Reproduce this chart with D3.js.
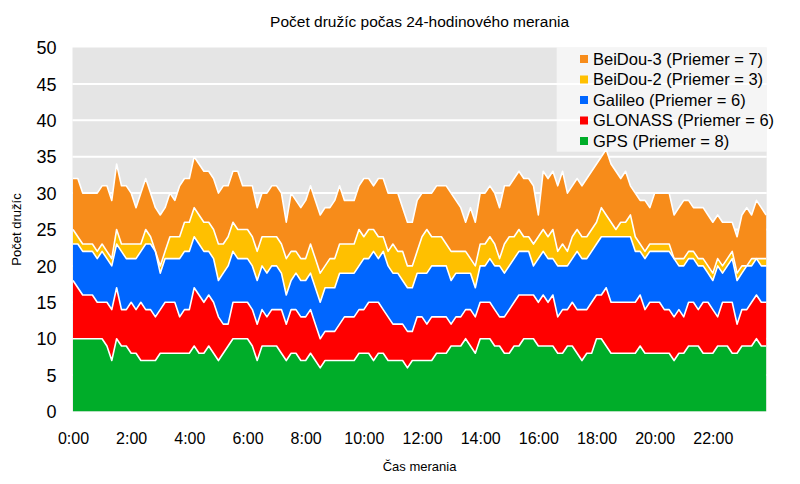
<!DOCTYPE html>
<html><head><meta charset="utf-8">
<script src="https://cdn.jsdelivr.net/npm/d3@7"></script>
<style>body{margin:0;background:#fff}text{font-family:"Liberation Sans",Arial,sans-serif;fill:#000}</style>
</head><body>
<svg id="c" width="800" height="484"></svg>
<script>
// time of each sample (minutes since 0:00), one every 10 minutes
const minutes = d3.range(0, 1440, 10);
const tickMinutes = [0,120,240,360,480,600,720,840,960,1080,1200,1320];
const tickLabels = ["0:00","2:00","4:00","6:00","8:00","10:00","12:00","14:00","16:00","18:00","20:00","22:00"];
const yTicks = [0,5,10,15,20,25,30,35,40,45,50];

const gps = [10,10,10,10,10,10,10,9,7,10,9,9,8,8,7,7,7,7,8,8,8,8,8,8,8,
9,8,8,9,8,7,8,9,10,10,10,10,9,7,9,9,9,9,8,7,8,8,7,
7,8,7,6,7,7,7,7,7,7,7,8,8,8,7,8,8,7,7,7,7,6,7,7,
7,7,7,8,8,8,9,9,9,10,9,8,10,10,10,9,9,8,8,9,9,10,10,10,
9,9,9,9,8,8,9,9,8,7,8,8,10,10,9,8,8,8,8,8,8,9,8,8,
8,8,8,8,7,8,8,9,9,9,8,8,8,9,9,9,8,8,9,9,9,10,9,9];
const glonass = [8,7,6,6,6,5,5,6,7,7,5,5,7,6,8,7,7,6,6,7,7,7,5,6,6,
8,8,7,7,7,6,4,3,5,5,5,5,5,5,5,4,5,5,6,5,6,6,6,
6,6,5,4,4,4,4,5,6,6,6,6,6,7,8,7,6,6,5,5,5,5,4,6,
6,5,6,5,5,5,3,4,4,4,5,5,5,5,5,5,4,5,6,6,7,6,6,6,
6,7,6,7,5,6,5,6,6,7,6,7,6,6,8,7,7,7,7,7,7,7,6,7,
7,7,6,6,6,6,5,6,6,5,7,7,6,4,6,6,7,4,5,5,6,6,6,6];
const galileo = [5,6,6,6,6,6,7,6,6,6,8,7,6,7,7,9,9,9,5,6,6,6,8,8,8,
7,7,7,6,6,5,7,8,7,6,6,6,6,6,6,6,6,6,5,4,4,5,5,
5,5,5,5,6,6,6,7,6,6,6,6,7,6,7,6,8,7,7,7,6,6,6,6,
6,7,7,7,7,7,6,6,6,5,5,4,5,5,6,6,7,6,6,6,6,6,6,4,
6,6,6,5,7,6,6,6,8,7,7,7,7,8,7,9,9,9,9,9,7,6,7,7,
7,7,8,8,8,6,7,6,6,6,5,4,4,7,4,5,6,6,5,6,5,5,5,5];
const beidou2 = [2,1,1,1,1,1,1,1,1,2,1,2,2,2,1,2,1,0,1,1,3,3,3,4,4,
4,4,4,4,4,5,4,4,4,4,4,4,4,4,4,5,4,4,4,5,4,3,3,
3,4,4,4,3,4,4,4,4,4,4,5,3,4,3,3,2,2,4,3,4,3,3,3,
5,6,4,4,4,3,4,3,3,3,2,3,3,3,3,3,1,4,4,3,3,2,2,3,
3,3,3,4,2,3,2,3,3,3,3,3,3,4,3,2,1,2,2,3,2,1,1,1,
1,1,1,1,0,1,1,1,1,1,1,1,1,1,1,1,1,1,1,0,1,0,1,1];
const beidou3 = [7,8,7,7,7,8,8,9,8,9,8,8,7,5,7,7,6,6,7,6,6,5,7,6,6,
7,7,7,7,7,7,8,7,7,8,6,6,7,6,6,6,7,7,7,5,8,7,7,
8,8,8,8,8,7,8,8,6,6,6,6,8,7,6,8,8,8,7,8,6,6,6,7,
6,5,6,7,7,8,8,7,6,4,7,6,7,7,7,7,7,8,7,8,8,8,8,8,
3,8,8,8,9,10,8,7,7,7,8,8,8,7,9,8,8,6,7,4,6,6,7,5,
7,7,7,7,6,7,8,7,6,7,7,7,7,6,6,5,4,5,7,8,6,8,7,6];

const seriesKeys = ["GPS","GLONASS","Galileo","BeiDou-2","BeiDou-3"];
const seriesData = [gps, glonass, galileo, beidou2, beidou3];
const seriesColors = ["#00ad29","#ff0000","#0066ff","#ffc000","#f78c1a"];
const legendLabels = ["GPS (Priemer = 8)","GLONASS (Priemer = 6)","Galileo (Priemer = 6)","BeiDou-2 (Priemer = 3)","BeiDou-3 (Priemer = 7)"];

const rows = minutes.map((m, i) => {
  const r = {t: m};
  seriesKeys.forEach((k, j) => r[k] = seriesData[j][i]);
  return r;
});

const svg = d3.select("#c");
const L = 72.5, R = 766.7, T = 47.5, B = 411.5;
const x = d3.scaleLinear().domain([0, 1440]).range([73, 771]);
const y = d3.scaleLinear().domain([0, 50]).range([B, T]);

svg.append("defs").append("clipPath").attr("id","clip")
  .append("rect").attr("x",L).attr("y",T).attr("width",R-L).attr("height",B-T);

svg.append("rect").attr("x",L).attr("y",T).attr("width",R-L).attr("height",B-T).attr("fill","#e5e5e5");

svg.append("g").selectAll("line").data(yTicks.filter(v => v > 0 && v < 50)).join("line")
  .attr("x1",L).attr("x2",R).attr("y1",d=>y(d)).attr("y2",d=>y(d))
  .attr("stroke","#fff").attr("stroke-width",2);

const stack = d3.stack().keys(seriesKeys)(rows);
const area = d3.area().x(d=>x(d.data.t)).y0(d=>y(d[0])).y1(d=>y(d[1]));
const topLine = d3.line().x(d=>x(d.data.t)).y(d=>y(d[1]));

const g = svg.append("g").attr("clip-path","url(#clip)");
g.selectAll("path.a").data(stack).join("path").attr("class","a")
  .attr("d", area).attr("fill", (d,i)=>seriesColors[i]);
g.selectAll("path.l").data(stack).join("path").attr("class","l")
  .attr("d", topLine).attr("fill","none").attr("stroke","#fff").attr("stroke-width",1.6).attr("stroke-linejoin","round");

// y axis
const ya = svg.append("g").attr("transform",`translate(${L},0)`)
  .call(d3.axisLeft(y).tickValues(yTicks).tickSize(0).tickPadding(16));
ya.select(".domain").remove();
ya.selectAll("text").style("font-size","18px").attr("dy","0.34em");

// x axis
const xa = svg.append("g").attr("transform",`translate(0,${B})`)
  .call(d3.axisBottom(x).tickValues(tickMinutes).tickFormat((d,i)=>tickLabels[i]).tickSize(0).tickPadding(21));
xa.select(".domain").remove();
xa.selectAll("text").style("font-size","16px");

// titles
svg.append("text").attr("x",(L+R)/2).attr("y",27).attr("text-anchor","middle")
  .style("font-size","15.5px").text("Počet družíc počas 24-hodinového merania");
svg.append("text").attr("x",(L+R)/2).attr("y",471).attr("text-anchor","middle")
  .style("font-size","13px").text("Čas merania");
svg.append("text").attr("transform",`translate(21,${(T+B)/2}) rotate(-90)`).attr("text-anchor","middle")
  .style("font-size","13px").text("Počet družíc");

// legend
const lg = svg.append("g");
lg.append("rect").attr("x",556.7).attr("y",T).attr("width",R-556.7).attr("height",104.2)
  .attr("fill","#ffffff").attr("fill-opacity",0.62);
const order = [4,3,2,1,0];
order.forEach((si, r) => {
  const cy = 59 + r*20.5;
  lg.append("rect").attr("x",580).attr("y",cy-4).attr("width",8).attr("height",8).attr("fill",seriesColors[si]);
  lg.append("text").attr("x",593).attr("y",cy).attr("dy","0.36em").style("font-size","16.5px").text(legendLabels[si]);
});
</script>
</body></html>
